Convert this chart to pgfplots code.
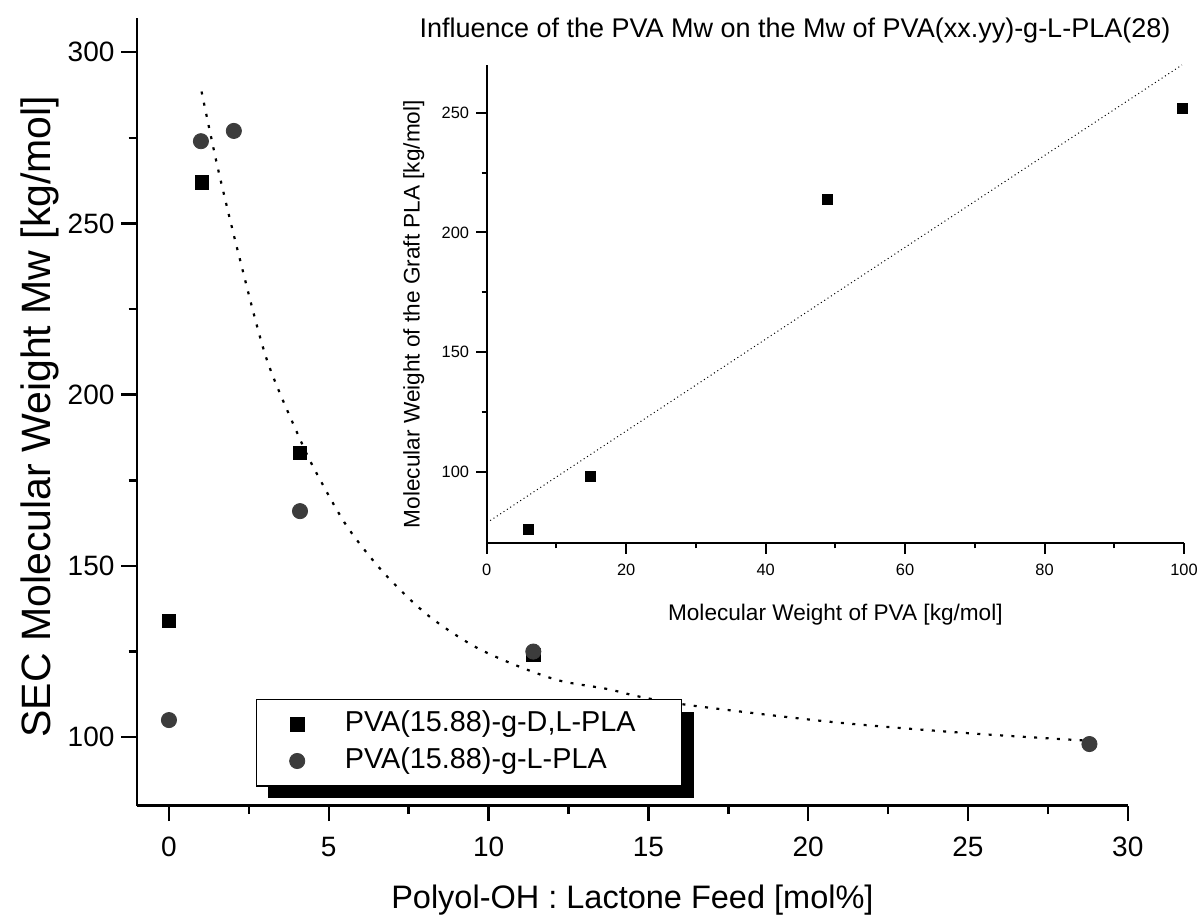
\documentclass[border=0pt]{standalone}
\usepackage{pgfplots}
\pgfplotsset{compat=1.18}
\usepackage{pgfplotstable}
\usepackage{fontspec}
\setmainfont{Liberation Sans}
\usetikzlibrary{shadows}
\definecolor{cgray}{RGB}{60,60,60}

\pgfplotstableread{
x y
0 134
1.03 262
4.1 183
11.4 124
}\dlpla
\pgfplotstableread{
x y
0 105
1.0 274
2.03 277
4.1 166
11.4 125
28.8 98
}\lpla
\pgfplotstableread{
x y
1.02 288.5
1.54 265.7
2.22 239.5
3.06 210.3
4.10 187.0
4.60 177.4
5.56 161.7
6.71 148.1
8.06 135.9
9.52 126.7
10.88 120.9
12.23 116.5
13.70 114.1
14.79 111.7
16.40 109.2
20.79 104.4
24.96 101.2
28.71 99.0
}\fitcurve
\pgfplotstableread{
x y
6.0 76
14.9 98
48.9 214
99.8 252
}\inset
\pgfplotstableread{
x y
0.5 79.5
99.7 270
}\insetfit

\begin{document}
\begin{tikzpicture}
\useasboundingbox (0,0) rectangle (601.5pt,457.5pt);
\begin{axis}[
  at={(68.5pt,54.65pt)}, anchor=south west,
  scale only axis, width=495.4pt, height=393.9pt,
  xmin=-1, xmax=30, ymin=80, ymax=310,
  axis x line=bottom, axis y line=left,
  axis line style={-, line width=1.25pt, black},
  xtick={0,5,...,30}, ytick={100,150,...,300},
  minor x tick num=1, minor y tick num=1,
  tick align=outside,
  major tick length=7.75pt, minor tick length=4.2pt,
  tick style={black, line width=1.25pt},
  /pgf/number format/assume math mode=true,
  tick label style={font=\fontsize{14}{16}\selectfont},
  xticklabel style={yshift=-4.5pt},
  xlabel={Polyol-OH : Lactone Feed [mol\%]},
  ylabel={SEC Molecular Weight Mw [kg/mol]},
  xlabel style={at={(axis description cs:0.5,-0.120)}, anchor=center, font=\fontsize{16.25}{19}\selectfont},
  ylabel style={at={(axis description cs:-0.0979,0.494)}, anchor=center, font=\fontsize{20.5}{24}\selectfont},
  legend cell align=left,
  legend image code/.code={\draw[#1] plot coordinates {(0pt,0pt)};},
  legend style={
    at={(axis description cs:0.1197,0.1357)}, anchor=north west,
    draw=black, line width=0.6pt, fill=white,
    font=\fontsize{14.4}{16}\selectfont,
    inner xsep=16.7pt, inner ysep=3.5pt,
    column sep=18pt, row sep=0.3pt,
    nodes={inner sep=2pt, text height=10.5pt, text depth=3.5pt, text width=149.8pt},
    drop shadow={shadow xshift=6pt, shadow yshift=-6.2pt, fill=black, opacity=1},
  },
]
\addplot[only marks, mark=square*, mark size=3.4pt, black, mark options={line width=0.4pt}] table {\dlpla};
\addlegendentry{PVA(15.88)-g-D,L-PLA}
\addplot[only marks, mark=*, mark size=3.8pt, draw=cgray, fill=cgray, mark options={line width=0.4pt}] table {\lpla};
\addlegendentry{PVA(15.88)-g-L-PLA}
\addplot[forget plot, black, line width=1.1pt, dash pattern=on 1.5pt off 4.2pt, smooth] table {\fitcurve};
\end{axis}

\begin{axis}[
  at={(243.35pt,185.85pt)}, anchor=south west,
  scale only axis, width=348.65pt, height=239.15pt,
  xmin=0, xmax=100, ymin=70, ymax=270,
  axis x line=bottom, axis y line=left,
  axis line style={-, line width=1pt, black},
  xtick={0,20,...,100}, ytick={100,150,200,250},
  minor x tick num=1, minor y tick num=1,
  tick align=outside,
  major tick length=5.3pt, minor tick length=2.6pt,
  tick style={black, line width=1pt},
  /pgf/number format/assume math mode=true,
  tick label style={font=\fontsize{8.2}{10}\selectfont},
  xticklabel style={yshift=-1.5pt},
  title={Influence of the PVA Mw on the Mw of PVA(xx.yy)-g-L-PLA(28)},
  title style={at={(axis description cs:0.442,1.076)}, anchor=center, yshift=-6.8pt, font=\fontsize{13.5}{15}\selectfont},
  xlabel={Molecular Weight of PVA [kg/mol]},
  ylabel={Molecular Weight of the Graft PLA [kg/mol]},
  label style={font=\fontsize{11.3}{13}\selectfont},
  xlabel style={at={(axis description cs:0.5,-0.149)}, anchor=center},
  ylabel style={at={(axis description cs:-0.1046,0.479)}, anchor=center},
]
\addplot[only marks, mark=square*, mark size=2.5pt, black, mark options={line width=0.3pt}] table {\inset};
\addplot[black, line width=0.5pt, dash pattern=on 0.5pt off 1.5pt] table {\insetfit};
\end{axis}
\end{tikzpicture}
\end{document}
